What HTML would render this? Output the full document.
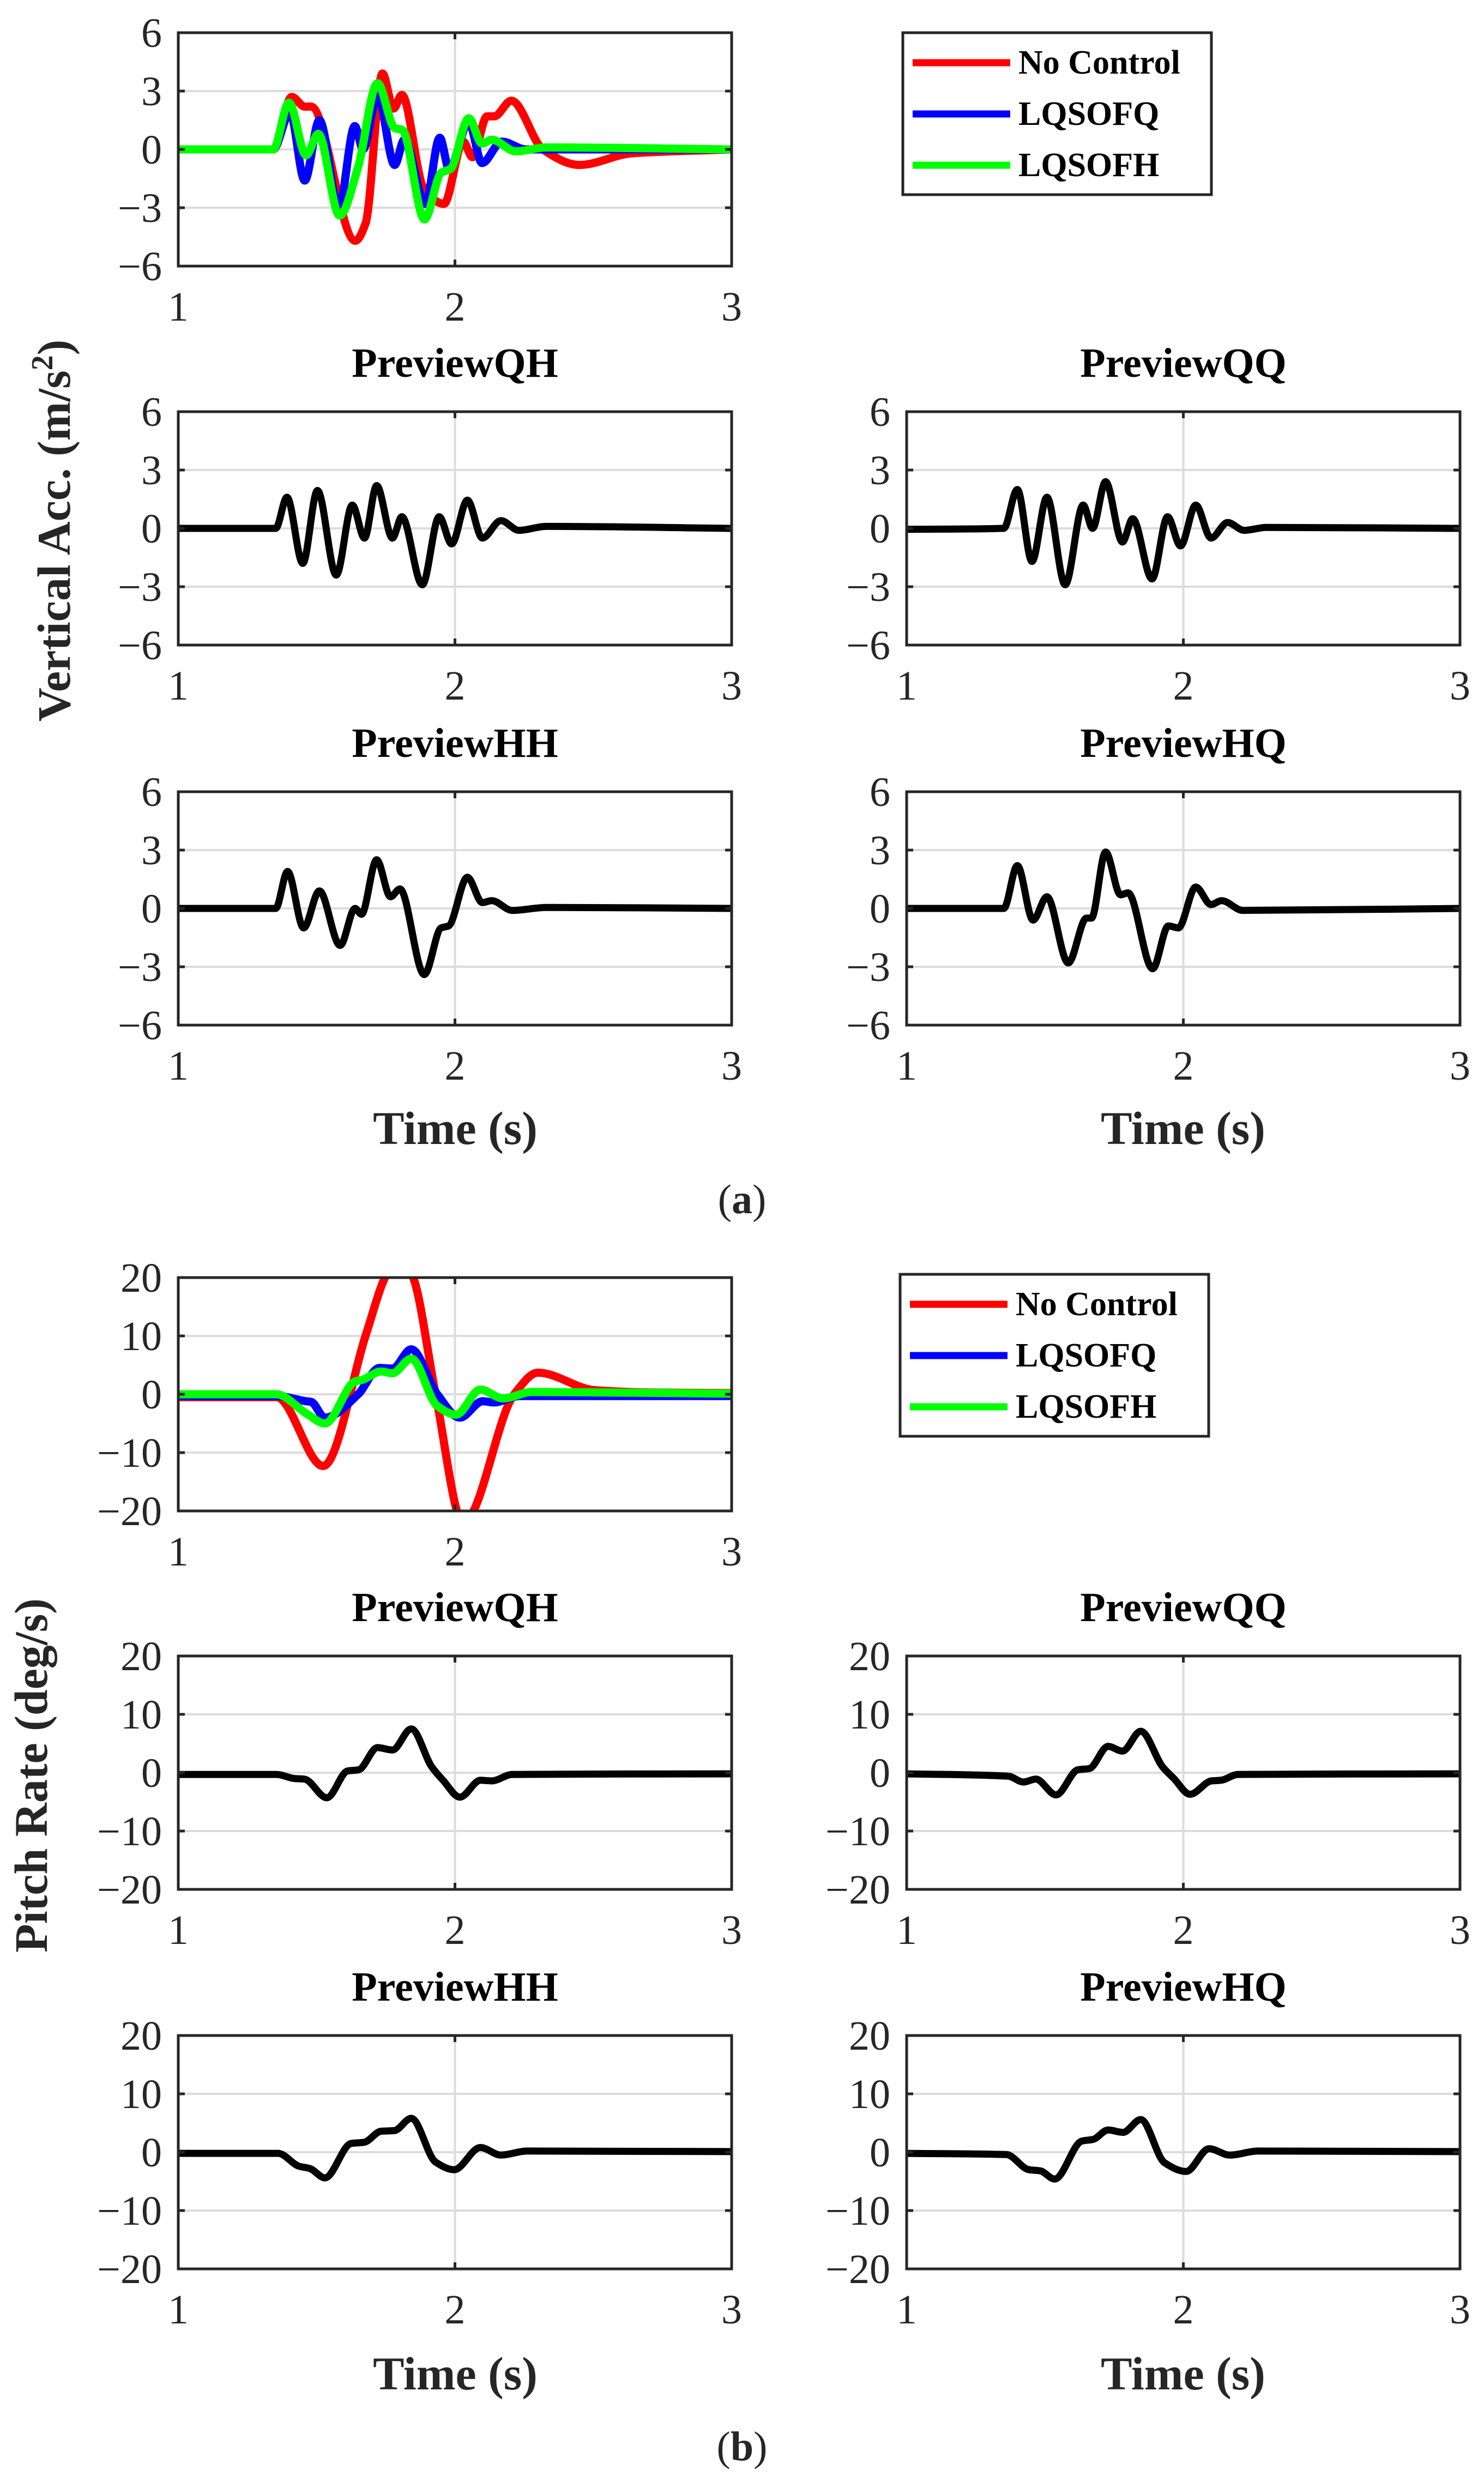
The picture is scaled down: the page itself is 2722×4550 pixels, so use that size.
<!DOCTYPE html>
<html><head><meta charset="utf-8"><style>
html,body{margin:0;padding:0;background:#fff;}
svg{display:block;}
text{font-family:"Liberation Serif","DejaVu Serif",serif;fill:#262626;}
.tk{font-size:76px;}
.ttl{font-size:76px;font-weight:bold;fill:#000;}
.xl{font-size:86px;font-weight:bold;}
.yl{font-size:86px;font-weight:bold;}
.lg{font-size:62px;font-weight:bold;fill:#000;}
</style></head><body>
<svg id="fig" width="2722" height="4550" viewBox="0 0 2722 4550" xmlns="http://www.w3.org/2000/svg" font-family="Liberation Serif, DejaVu Serif, serif"></svg>
<script>
// ---------- data (time in s, values) ----------
const xTicks = [1, 2, 3];
const accTicks = [-6, -3, 0, 3, 6];
const pitchTicks = [-20, -10, 0, 10, 20];
const legendLabels = ["No Control", "LQSOFQ", "LQSOFH"];

const accNoT = [1.0,1.343,1.41,1.457,1.48,1.64,1.677,1.738,1.778,1.808,1.887,1.96,2.03,2.063,2.116,2.142,2.204,2.318,2.45,2.64,3.0];
const accNoV = [0,0,2.7,2.2,2.2,-4.7,-3.8,3.9,2.1,2.8,-2.0,-2.8,0.4,-0.4,1.7,1.7,2.5,0,-0.8,-0.2,0];
const accFqT = [1.0,1.343,1.404,1.457,1.51,1.58,1.638,1.668,1.72,1.782,1.817,1.893,1.945,1.979,2.05,2.098,2.169,2.257,3.0];
const accFqV = [0,0,1.9,-1.6,1.5,-3.0,1.2,0,2.8,-0.8,0.5,-2.8,0.6,-1.0,1.4,-0.7,0.4,0,0];
const accFhT = [1.0,1.343,1.40,1.462,1.506,1.583,1.65,1.72,1.782,1.81,1.89,1.95,1.984,2.05,2.098,2.133,2.22,2.33,3.0];
const accFhV = [0,0,2.4,-0.3,0.8,-3.4,-0.9,3.4,1.1,1.0,-3.6,-1.2,-1.0,1.6,0.3,0.5,-0.1,0.1,0];

const accQhT = [1.0,1.352,1.393,1.45,1.503,1.571,1.629,1.673,1.717,1.774,1.808,1.882,1.943,1.988,2.045,2.099,2.166,2.231,2.33,3.0];
const accQhV = [0,0,1.6,-1.8,1.95,-2.4,1.2,-0.5,2.2,-0.5,0.6,-2.9,0.6,-0.8,1.45,-0.5,0.4,-0.1,0.1,0];
const accQqT = [1.0,1.351,1.40,1.453,1.507,1.573,1.638,1.672,1.719,1.78,1.817,1.887,1.943,1.99,2.045,2.1,2.16,2.22,2.30,3.0];
const accQqV = [-0.05,0,2.0,-1.7,1.6,-2.9,1.2,0,2.4,-0.7,0.5,-2.6,0.6,-0.9,1.2,-0.5,0.3,-0.1,0.05,0];
const accHhT = [1.0,1.352,1.395,1.453,1.51,1.585,1.639,1.662,1.717,1.767,1.801,1.889,1.95,1.977,2.045,2.099,2.133,2.207,2.33,3.0];
const accHhV = [0,0,1.9,-1.0,0.9,-1.9,0,-0.3,2.5,0.6,1.0,-3.4,-1.0,-0.9,1.6,0.3,0.4,-0.1,0.05,0];
const accHqT = [1.0,1.351,1.40,1.457,1.507,1.584,1.65,1.668,1.719,1.773,1.80,1.889,1.946,1.982,2.045,2.1,2.138,2.215,3.0];
const accHqV = [0,0,2.2,-0.6,0.6,-2.8,-0.5,-0.5,2.9,0.7,0.8,-3.1,-0.9,-1.0,1.1,0.2,0.4,-0.1,0];

const pitNoT = [1.0,1.355,1.524,1.68,1.747,1.80,1.849,1.93,2.03,2.214,2.30,2.505,2.71,3.0];
const pitNoV = [-0.5,-0.5,-12.3,10.5,20,24,20,0,-22,0,3.7,0.7,0.3,0.2];
const pitFqT = [1.0,1.355,1.463,1.48,1.53,1.65,1.727,1.774,1.842,1.936,2.018,2.1,2.14,2.234,3.0];
const pitFqV = [-0.3,-0.3,-1.2,-1.3,-4.0,0,4.5,4.4,7.7,0,-4.0,-1.2,-1.4,-0.3,-0.3];
const pitFhT = [1.0,1.355,1.463,1.53,1.639,1.666,1.733,1.774,1.842,1.936,2.004,2.092,2.173,2.28,3.0];
const pitFhV = [0,0,-3.3,-5.0,2.2,2.5,3.9,3.6,6.1,-2.0,-3.5,0.8,-0.7,0.4,0.1];

const pitQhT = [1.0,1.355,1.42,1.456,1.537,1.612,1.652,1.72,1.774,1.842,1.916,1.957,2.018,2.092,2.133,2.207,3.0];
const pitQhV = [-0.3,-0.3,-1.0,-1.1,-4.3,0.3,0.5,4.3,3.9,7.5,1.0,-1.3,-4.2,-1.3,-1.4,-0.3,-0.2];
const pitQqT = [1.0,1.367,1.422,1.467,1.54,1.619,1.66,1.728,1.78,1.846,1.925,1.966,2.024,2.102,2.136,2.197,3.0];
const pitQqV = [-0.2,-0.6,-1.6,-1.1,-3.8,0.5,0.7,4.5,3.7,7.1,1.0,-1.0,-3.7,-1.4,-1.3,-0.3,-0.2];
const pitHhT = [1.0,1.361,1.436,1.476,1.53,1.625,1.672,1.733,1.781,1.842,1.93,1.997,2.092,2.166,2.26,3.0];
const pitHhV = [-0.2,-0.2,-2.4,-2.8,-4.4,1.5,1.7,3.6,3.7,5.8,-1.7,-3.0,0.8,-0.5,0.2,0.1];
const pitHqT = [1.0,1.36,1.442,1.483,1.535,1.633,1.674,1.728,1.782,1.846,1.932,2.01,2.093,2.168,2.27,3.0];
const pitHqV = [-0.2,-0.4,-3.0,-3.2,-4.6,1.9,2.2,3.8,3.4,5.6,-1.8,-3.3,0.6,-0.5,0.2,0.1];

// ---------- drawing ----------
const NS = "http://www.w3.org/2000/svg";
const FF = "Liberation Serif, DejaVu Serif, serif";
const fig = document.getElementById("fig");
function mk(tag, attrs, parent, txt){
  const e = document.createElementNS(NS, tag);
  for (const k in attrs) e.setAttribute(k, attrs[k]);
  if (tag === "text") e.setAttribute("font-family", FF);
  if (txt !== undefined) e.textContent = txt;
  (parent || fig).appendChild(e);
  return e;
}
function fmt(v){ return v < 0 ? "\u2212" + Math.abs(v) : String(v); }

function smoothPath(T, V, sx, sy){
  const n = T.length, xs = T.map(sx), ys = V.map(sy);
  const d = [], m = new Array(n).fill(0);
  for (let i = 0; i < n-1; i++) d.push((ys[i+1]-ys[i])/(xs[i+1]-xs[i]));
  m[0] = d[0]; m[n-1] = d[n-2];
  for (let i = 1; i < n-1; i++){
    if (d[i-1]*d[i] <= 0) m[i] = 0;
    else { const w1 = 2*(xs[i+1]-xs[i])+(xs[i]-xs[i-1]), w2 = (xs[i+1]-xs[i])+2*(xs[i]-xs[i-1]);
      m[i] = (w1+w2)/(w1/d[i-1]+w2/d[i]); }
  }
  let p = "M" + xs[0].toFixed(1) + "," + ys[0].toFixed(1);
  for (let i = 0; i < n-1; i++){
    const h = (xs[i+1]-xs[i])/3;
    p += " C" + (xs[i]+h).toFixed(1) + "," + (ys[i]+m[i]*h).toFixed(1) + " " +
         (xs[i+1]-h).toFixed(1) + "," + (ys[i+1]-m[i+1]*h).toFixed(1) + " " +
         xs[i+1].toFixed(1) + "," + ys[i+1].toFixed(1);
  }
  return p;
}

let clipId = 0;
function axes(name, x0, y0, w, h, yTicks, series, title){
  const g = mk("g", {}, fig);
  
  
  const ymin = yTicks[0], ymax = yTicks[yTicks.length-1];
  const sx = t => x0 + (t - xTicks[0]) / (xTicks[xTicks.length-1] - xTicks[0]) * w;
  const sy = v => y0 + h - (v - ymin) / (ymax - ymin) * h;
  yTicks.slice(1, -1).forEach(v => {
    const l = mk("line", {x1:x0, x2:x0+w, y1:sy(v), y2:sy(v), stroke:"#dcdcdc", "stroke-width":4}, g);
    
    
  });
  xTicks.slice(1, -1).forEach(t => {
    const l = mk("line", {x1:sx(t), x2:sx(t), y1:y0, y2:y0+h, stroke:"#dcdcdc", "stroke-width":4}, g);
    
    
  });
  const cid = "c" + (clipId++);
  const cp = mk("clipPath", {id:cid}, g);
  mk("rect", {x:x0, y:y0, width:w, height:h}, cp);
  series.forEach(s => {
    const p = mk("path", {d:smoothPath(s.t, s.v, sx, sy), fill:"none", stroke:s.color, "stroke-width":s.w,
      "stroke-linejoin":"round", "stroke-linecap":"round", "clip-path":"url(#"+cid+")"}, g);
    
    
  });
  yTicks.forEach(v => {
    mk("line", {x1:x0, x2:x0+12, y1:sy(v), y2:sy(v), stroke:"#262626", "stroke-width":5}, g);
    mk("line", {x1:x0+w-12, x2:x0+w, y1:sy(v), y2:sy(v), stroke:"#262626", "stroke-width":5}, g);
    const tl = mk("text", {x:x0-30, y:sy(v)+26, "text-anchor":"end", class:"tk"}, g, fmt(v));
    
    
  });
  xTicks.forEach(t => {
    mk("line", {x1:sx(t), x2:sx(t), y1:y0, y2:y0+12, stroke:"#262626", "stroke-width":5}, g);
    mk("line", {x1:sx(t), x2:sx(t), y1:y0+h-12, y2:y0+h, stroke:"#262626", "stroke-width":5}, g);
    const tl = mk("text", {x:sx(t), y:y0+h+100, "text-anchor":"middle", class:"tk"}, g, fmt(t));
    
    
  });
  const fr = mk("rect", {x:x0, y:y0, width:w, height:h, fill:"none", stroke:"#262626", "stroke-width":5}, g);
  
  
  if (title){
    const tt = mk("text", {x:x0+w/2, y:y0-64, "text-anchor":"middle", class:"ttl"}, g, title);
    
    
  }
}

function legend(x, y){
  const g = mk("g", {}, fig);
  
  
  mk("rect", {x:x, y:y, width:566, height:297, fill:"#fff", stroke:"#262626", "stroke-width":5}, g);
  const cols = ["#ff0000", "#0000ff", "#00ff00"];
  legendLabels.forEach((lab, i) => {
    const yy = y + 55 + i*94;
    const e = mk("g", {}, g);
    
    
    mk("line", {x1:x+18, x2:x+197, y1:yy, y2:yy, stroke:cols[i], "stroke-width":13}, e);
    mk("text", {x:x+212, y:yy+20, class:"lg"}, e, lab);
  });
}

const LX = 327, RX = 1663, W = 1015, H = 428;
const BL = "#000", BW = 13, CW = 15;
function blk(t, v){ return [{t:t, v:v, color:BL, w:BW, name:"response-line"}]; }
function three(a, b, c, d, e, f){
  return [{t:a, v:b, color:"#ff0000", w:CW, name:"no-control-line"},
          {t:c, v:d, color:"#0000ff", w:CW, name:"lqsofq-line"},
          {t:e, v:f, color:"#00ff00", w:CW, name:"lqsofh-line"}];
}

axes("acc-comparison-plot", LX, 60, W, H, accTicks, three(accNoT, accNoV, accFqT, accFqV, accFhT, accFhV));
legend(1656, 60);
axes("acc-previewqh-plot", LX, 755, W, H, accTicks, blk(accQhT, accQhV), "PreviewQH");
axes("acc-previewqq-plot", RX, 755, W, H, accTicks, blk(accQqT, accQqV), "PreviewQQ");
axes("acc-previewhh-plot", LX, 1452, W, H, accTicks, blk(accHhT, accHhV), "PreviewHH");
axes("acc-previewhq-plot", RX, 1452, W, H, accTicks, blk(accHqT, accHqV), "PreviewHQ");

axes("pitch-comparison-plot", LX, 2343, W, H, pitchTicks, three(pitNoT, pitNoV, pitFqT, pitFqV, pitFhT, pitFhV));
legend(1651, 2337);
axes("pitch-previewqh-plot", LX, 3037, W, H, pitchTicks, blk(pitQhT, pitQhV), "PreviewQH");
axes("pitch-previewqq-plot", RX, 3037, W, H, pitchTicks, blk(pitQqT, pitQqV), "PreviewQQ");
axes("pitch-previewhh-plot", LX, 3733, W, H, pitchTicks, blk(pitHhT, pitHhV), "PreviewHH");
axes("pitch-previewhq-plot", RX, 3733, W, H, pitchTicks, blk(pitHqT, pitHqV), "PreviewHQ");

function label(name, x, y, cls, rot){
  const t = mk("text", {x:x, y:y, "text-anchor":"middle", class:cls}, fig);
  if (rot) t.setAttribute("transform", "rotate(-90 " + x + " " + y + ")");
  
  
  return t;
}
const ya = label("y-axis-title-acc", 128, 973, "yl", true);
ya.textContent = "Vertical Acc. (m/s";
mk("tspan", {dy:-32, "font-size":"56"}, ya, "2");
mk("tspan", {dy:32}, ya, ")");
label("y-axis-title-pitch", 86, 3256, "yl", true).textContent = "Pitch Rate (deg/s)";
label("x-axis-title", 835, 2098, "xl").textContent = "Time (s)";
label("x-axis-title", 2170, 2098, "xl").textContent = "Time (s)";
label("x-axis-title", 835, 4382, "xl").textContent = "Time (s)";
label("x-axis-title", 2170, 4382, "xl").textContent = "Time (s)";
const pa = label("panel-label-a", 1361, 2225, "tk");
pa.setAttribute("font-size", "60");
pa.textContent = "(";
mk("tspan", {"font-weight":"bold"}, pa, "a");
mk("tspan", {}, pa, ")");
const pb = label("panel-label-b", 1361, 4512, "tk");
pb.setAttribute("font-size", "60");
pb.textContent = "(";
mk("tspan", {"font-weight":"bold"}, pb, "b");
mk("tspan", {}, pb, ")");
</script>
</body></html>
